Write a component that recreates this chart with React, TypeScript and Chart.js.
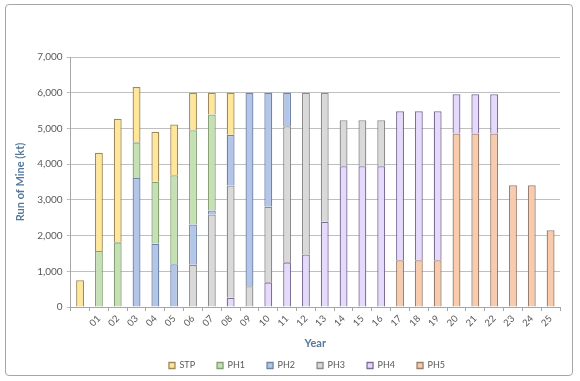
import React, { useEffect, useRef } from "react";
import { Chart, registerables } from "chart.js";

Chart.register(...registerables);

const years = ["", "01", "02", "03", "04", "05", "06", "07", "08", "09", "10", "11", "12", "13", "14", "15", "16", "17", "18", "19", "20", "21", "22", "23", "24", "25"];
const stp = [750, 2750, 3460, 1550, 1400, 1420, 1050, 610, 1180, 0, 0, 0, 0, 0, 0, 0, 0, 0, 0, 0, 0, 0, 0, 0, 0, 0];
const ph1 = [0, 1570, 1810, 1000, 1740, 2490, 2640, 2690, 0, 0, 0, 0, 0, 0, 0, 0, 0, 0, 0, 0, 0, 0, 0, 0, 0, 0];
const ph2 = [0, 0, 0, 3610, 1770, 1200, 1130, 110, 1420, 5420, 3190, 940, 0, 0, 0, 0, 0, 0, 0, 0, 0, 0, 0, 0, 0, 0];
const ph3 = [0, 0, 0, 0, 0, 0, 1180, 2590, 3140, 580, 2120, 3810, 4530, 3610, 1290, 1290, 1290, 0, 0, 0, 0, 0, 0, 0, 0, 0];
const ph4 = [0, 0, 0, 0, 0, 0, 0, 0, 260, 0, 690, 1250, 1470, 2390, 3940, 3940, 3940, 4170, 4170, 4170, 1100, 1100, 1100, 0, 0, 0];
const ph5 = [0, 0, 0, 0, 0, 0, 0, 0, 0, 0, 0, 0, 0, 0, 0, 0, 0, 1310, 1310, 1310, 4860, 4860, 4860, 3410, 3410, 2150];

const FONT = "Lato";
const TITLE_COLOR = "#56799B";

const legendTweak = {
  id: "legendTweak",
  beforeLayout(chart: any) {
    const lg = chart.legend;
    if (lg && !lg._tweaked) {
      lg._tweaked = true;
      const fit = lg.fit.bind(lg);
      lg.fit = function () {
        fit();
        this.height = 0;
      };
      lg.draw = function () {
        if (!this.options.display) return;
        const ctx = this.ctx;
        ctx.save();
        ctx.translate(20, -34);
        this._draw();
        ctx.restore();
      };
    }
  },
};

export default function App() {
  const ref = useRef<HTMLCanvasElement | null>(null);

  useEffect(() => {
    if (!ref.current) return;
    const mk = (label: string, data: number[], bg: string, bd: string) => ({
      label,
      data,
      backgroundColor: bg,
      borderColor: bd,
      borderWidth: 1.3,
      barPercentage: 0.84,
      categoryPercentage: 0.5,
      stack: "s",
    });
    const chart = new Chart(ref.current, {
      type: "bar",
      data: {
        labels: years,
        datasets: [
          mk("PH5", ph5, "#F8CBAD", "#9A7E6E"),
          mk("PH4", ph4, "#E6DAFC", "#7D6F95"),
          mk("PH3", ph3, "#D9D9D9", "#8C8C8C"),
          mk("PH2", ph2, "#B4C6E7", "#6F84A6"),
          mk("PH1", ph1, "#C5E0B3", "#86A076"),
          mk("STP", stp, "#FFE699", "#9C8A5C"),
        ],
      },
      plugins: [legendTweak],
      options: {
        responsive: false,
        animation: false,
        layout: { padding: { left: 14, right: 20, top: 57, bottom: 8 } },
        plugins: {
          tooltip: { enabled: false },
          legend: {
            position: "bottom",
            reverse: true,
            labels: {
              boxWidth: 6,
              boxHeight: 6,
              padding: 22,
              color: "#595959",
              font: { family: FONT, size: 9 },
            },
          },
        },
        scales: {
          x: {
            stacked: true,
            afterFit: (s: any) => {
              s.height = 66;
            },
            grid: { drawOnChartArea: false, drawTicks: true, tickLength: 4, color: "#A6A6A6", offset: true },
            border: { display: true, color: "#A6A6A6" },
            ticks: { minRotation: 45, maxRotation: 45, color: "#595959", font: { family: FONT, size: 9.5 }, padding: 2, autoSkip: false },
            title: { display: true, text: "Year", color: TITLE_COLOR, font: { family: FONT, size: 11, weight: "bold" }, padding: { top: 1, bottom: 23 } },
          },
          y: {
            stacked: true,
            min: 0,
            max: 7000,
            grid: { color: "#BFBFBF", tickLength: 4 },
            border: { display: true, color: "#A6A6A6" },
            ticks: {
              stepSize: 1000,
              color: "#595959",
              font: { family: FONT, size: 10 },
              padding: 4,
              callback: (v: any) => Number(v).toLocaleString("en-US"),
            },
            title: { display: true, text: "Run of Mine (kt)", color: TITLE_COLOR, font: { family: FONT, size: 11, weight: "bold" }, padding: { top: 0, bottom: 6 } },
          },
        },
      },
    });
    return () => chart.destroy();
  }, []);

  return (
    <div style={{ position: "fixed", left: 0, top: 0, width: 580, height: 381, background: "#fff" }}>
      <div
        style={{
          position: "absolute",
          left: 5,
          top: 4,
          width: 568,
          height: 372,
          border: "1px solid #A6A6A6",
          borderRadius: 4,
          boxSizing: "border-box",
        }}
      />
      <canvas ref={ref} width={580} height={381} style={{ position: "absolute", left: 0, top: 0 }} />
    </div>
  );
}
